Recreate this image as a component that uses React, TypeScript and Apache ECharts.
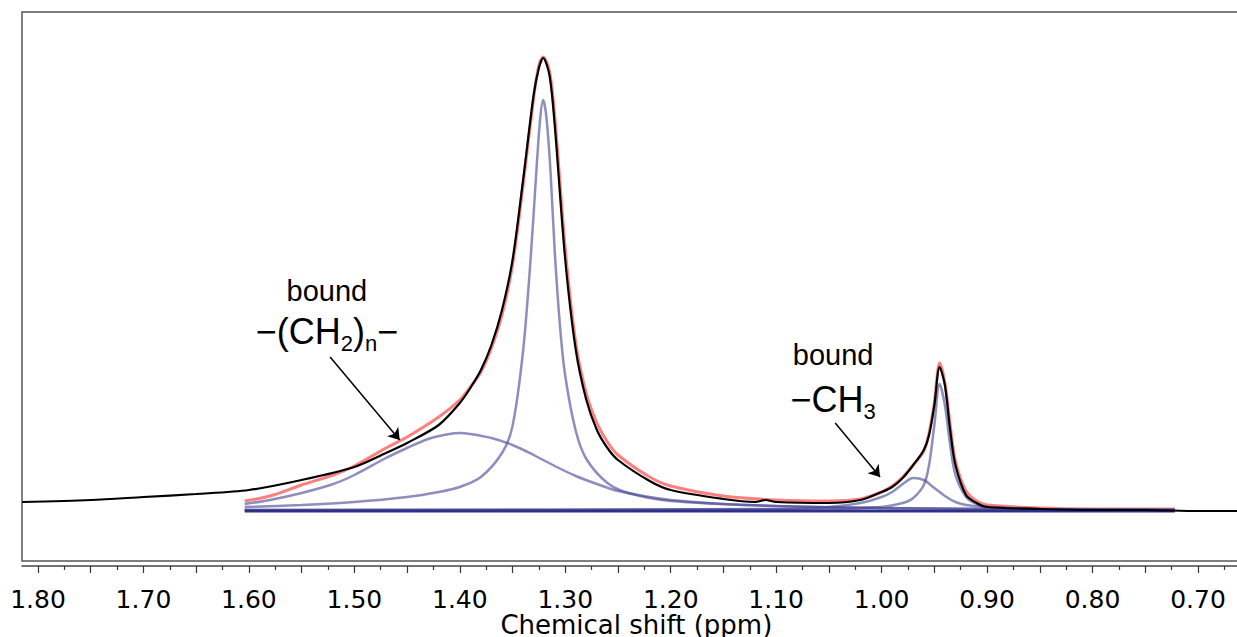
import React, { useEffect, useRef } from 'react';
import * as echarts from 'echarts';

// Chemical shift (ppm) vs intensity (arbitrary units, 0 = fitted baseline)
const experimental: [number, number][] = [
  [1.815, 9], [1.75, 11], [1.70, 14], [1.65, 17], [1.60, 21], [1.55, 31], [1.50, 44],
  [1.47, 58], [1.45, 68], [1.42, 86], [1.40, 108], [1.39, 123], [1.38, 141], [1.37, 166],
  [1.36, 201], [1.35, 251], [1.34, 331], [1.33, 416], [1.325, 443], [1.321, 453],
  [1.315, 436], [1.31, 386], [1.30, 251], [1.29, 161], [1.28, 111], [1.27, 81], [1.26, 63],
  [1.25, 51], [1.22, 30], [1.20, 21], [1.15, 12], [1.12, 9], [1.11, 11], [1.10, 9],
  [1.05, 8], [1.02, 11], [1.00, 19], [0.99, 24], [0.98, 33], [0.97, 46], [0.96, 61],
  [0.955, 76], [0.95, 106], [0.945, 144], [0.94, 126], [0.935, 81], [0.93, 46], [0.92, 16],
  [0.91, 8], [0.90, 4], [0.85, 2], [0.80, 1], [0.75, 1], [0.70, 0], [0.65, 0],
];

const totalFit: [number, number][] = [
  [1.604, 10], [1.58, 15], [1.55, 26], [1.52, 36], [1.50, 45], [1.47, 63], [1.45, 74],
  [1.42, 94], [1.40, 111], [1.39, 124], [1.38, 139], [1.37, 163], [1.36, 196], [1.35, 246],
  [1.34, 326], [1.33, 413], [1.325, 446], [1.321, 454], [1.315, 440], [1.31, 395],
  [1.30, 262], [1.29, 168], [1.28, 117], [1.27, 88], [1.26, 69], [1.25, 56], [1.22, 34],
  [1.20, 25], [1.15, 15], [1.10, 11], [1.05, 10], [1.02, 12], [1.00, 19], [0.99, 25],
  [0.98, 34], [0.97, 46], [0.96, 60], [0.955, 78], [0.95, 108], [0.945, 148], [0.94, 128],
  [0.935, 86], [0.93, 50], [0.92, 20], [0.91, 10], [0.90, 6], [0.85, 3], [0.80, 2], [0.722, 2],
];

const compBroad: [number, number][] = [
  [1.604, 7], [1.58, 11], [1.55, 18], [1.52, 27], [1.50, 36], [1.47, 53], [1.45, 63],
  [1.43, 72], [1.41, 77], [1.40, 78], [1.39, 77], [1.37, 73], [1.35, 66], [1.33, 56],
  [1.31, 45], [1.29, 35], [1.27, 27], [1.25, 20], [1.22, 14], [1.20, 11], [1.15, 7],
  [1.10, 5], [1.00, 3], [0.90, 2], [0.722, 1],
];

const compSharp: [number, number][] = [
  [1.604, 4], [1.55, 6], [1.50, 9], [1.45, 14], [1.42, 19], [1.40, 24], [1.38, 34],
  [1.36, 58], [1.35, 85], [1.34, 160], [1.333, 250], [1.328, 330], [1.324, 390],
  [1.321, 411], [1.318, 395], [1.314, 340], [1.31, 260], [1.305, 185], [1.30, 135],
  [1.29, 80], [1.28, 52], [1.26, 28], [1.24, 18], [1.20, 10], [1.10, 5], [1.00, 3],
  [0.90, 2], [0.722, 1],
];

const compMethylBroad: [number, number][] = [
  [1.604, 1], [1.10, 2], [1.05, 4], [1.02, 8], [1.00, 14], [0.99, 19], [0.98, 27],
  [0.97, 33], [0.96, 31], [0.95, 23], [0.94, 15], [0.93, 9], [0.92, 6], [0.90, 4],
  [0.85, 2], [0.722, 1],
];

const compMethylSharp: [number, number][] = [
  [1.604, 1], [1.05, 2], [1.00, 4], [0.98, 8], [0.97, 13], [0.96, 26], [0.955, 46],
  [0.95, 86], [0.945, 127], [0.94, 106], [0.935, 66], [0.93, 36], [0.92, 14], [0.91, 7],
  [0.90, 4], [0.85, 2], [0.722, 1],
];

const baseline: [number, number][] = [[1.604, 0], [0.722, 0]];

const tickLabels = ['1.80', '1.70', '1.60', '1.50', '1.40', '1.30', '1.20', '1.10', '1.00', '0.90', '0.80', '0.70'];

// annotation anchors in data coordinates [ppm, intensity]
const arrows: [[number, number], [number, number]][] = [
  [[1.523, 154], [1.457, 71]],
  [[1.044, 88], [1.0015, 34]],
];
const labelBound1: [number, number] = [1.526, 220];
const labelGroup1: [number, number] = [1.526, 180];
const labelBound2: [number, number] = [1.046, 156];
const labelGroup2: [number, number] = [1.046, 112];

const AXIS_FONT = 'DejaVu Sans, Verdana, sans-serif';
const ANN_FONT = 'Liberation Sans, Arial, Helvetica, sans-serif';

const CHART_W = 1260;

export default function App() {
  const ref = useRef<HTMLDivElement>(null);

  useEffect(() => {
    if (!ref.current) return;
    const chart = echarts.init(ref.current, undefined, { renderer: 'svg' });

    const blueComp = 'rgba(72, 72, 150, 0.62)';
    const lineSeries = (name: string, data: [number, number][], color: string, width: number, z: number) => ({
      name,
      type: 'line',
      xAxisIndex: 0,
      yAxisIndex: 0,
      data,
      showSymbol: false,
      smooth: 0.3,
      z,
      lineStyle: { color, width },
      emphasis: { disabled: true },
    });

    const option: any = {
      animation: false,
      grid: [
        { left: 22, right: 9.3, top: 12, bottom: 76, show: true, borderColor: '#555', borderWidth: 1.5, outerBoundsMode: 'none', containLabel: false },
        { left: 38, right: 9.3, top: 12, bottom: 76, show: false, outerBoundsMode: 'none', containLabel: false },
      ],
      xAxis: [
        {
          gridIndex: 0,
          type: 'value',
          inverse: true,
          min: 0.65,
          max: 1.81517,
          offset: 5,
          axisLine: { show: true, onZero: false, lineStyle: { color: '#444', width: 1.5 } },
          axisTick: { show: false },
          axisLabel: { show: false },
          splitLine: { show: false },
          name: 'Chemical shift (ppm)',
          nameLocation: 'middle',
          nameGap: 46,
          nameTextStyle: { fontSize: 26, fontFamily: AXIS_FONT, color: '#000' },
        },
        {
          gridIndex: 1,
          type: 'value',
          inverse: true,
          min: 0.65,
          max: 1.8,
          interval: 0.05,
          offset: 5,
          axisLine: { show: false, onZero: false },
          axisTick: { show: true, length: 7, lineStyle: { color: '#333', width: 1.2 } },
          minorTick: { show: true, splitNumber: 2, length: 4, lineStyle: { color: '#333', width: 1.2 } },
          splitLine: { show: false },
          minorSplitLine: { show: false },
          axisLabel: {
            show: true,
            margin: 21,
            fontSize: 25,
            fontFamily: AXIS_FONT,
            color: '#000',
            formatter: (v: number) => {
              const s = v.toFixed(2);
              return tickLabels.indexOf(s) >= 0 ? s : '';
            },
          },
        },
      ],
      yAxis: [
        { gridIndex: 0, type: 'value', min: -50, max: 499, show: false },
        { gridIndex: 1, type: 'value', min: -50, max: 499, show: false },
      ],
      series: [
        lineSeries('Total fit', totalFit, 'rgba(255, 95, 95, 0.8)', 3, 2),
        lineSeries('Broad -(CH2)n-', compBroad, blueComp, 2.5, 3),
        lineSeries('Sharp -(CH2)n-', compSharp, blueComp, 2.5, 3),
        lineSeries('Broad -CH3', compMethylBroad, blueComp, 2.5, 3),
        lineSeries('Sharp -CH3', compMethylSharp, blueComp, 2.5, 3),
        lineSeries('Baseline', baseline, '#2f2f88', 3, 4),
        {
          ...lineSeries('Experimental', experimental, '#000', 2.2, 5),
          markLine: {
            silent: true,
            symbol: ['none', 'arrow'],
            symbolSize: 11,
            label: { show: false },
            lineStyle: { color: '#000', width: 1.5, type: 'solid' },
            data: arrows.map(([a, b]) => [{ coord: a }, { coord: b }]),
          },
        },
      ],
    };

    chart.setOption(option);

    const px = (p: [number, number]) => chart.convertToPixel({ xAxisIndex: 0, yAxisIndex: 0 }, p) as number[];
    const b1 = px(labelBound1);
    const g1 = px(labelGroup1);
    const b2 = px(labelBound2);
    const g2 = px(labelGroup2);

    const rich = {
      m: { fontSize: 36, fontFamily: ANN_FONT, fill: '#000', color: '#000', lineHeight: 46 },
      s: { fontSize: 22, fontFamily: ANN_FONT, fill: '#000', color: '#000', verticalAlign: 'bottom' },
    };
    const textEl = (x: number, y: number, text: string, size: number) => ({
      type: 'text',
      x,
      y,
      z: 100,
      style: {
        text,
        fill: '#000',
        font: `${size}px ${ANN_FONT}`,
        align: 'center',
        verticalAlign: 'middle',
        textAlign: 'center',
        textVerticalAlign: 'middle',
      },
    });
    const richEl = (x: number, y: number, text: string) => ({
      type: 'text',
      x,
      y,
      z: 100,
      style: {
        text,
        rich,
        fill: '#000',
        font: `36px ${ANN_FONT}`,
        align: 'center',
        verticalAlign: 'middle',
        textAlign: 'center',
        textVerticalAlign: 'middle',
      },
    });

    chart.setOption({
      graphic: [
        textEl(b1[0], b1[1], 'bound', 29),
        richEl(g1[0], g1[1], '{m|−(CH}{s|2}{m|)}{s|n}{m|−}'),
        textEl(b2[0], b2[1], 'bound', 29),
        richEl(g2[0], g2[1], '{m|−CH}{s|3}'),
      ],
    });

    return () => chart.dispose();
  }, []);

  return (
    <div style={{ position: 'fixed', left: 0, top: 0, width: 1237, height: 637, overflow: 'hidden', background: '#fff' }}>
      <div ref={ref} style={{ width: CHART_W, height: 637 }} />
    </div>
  );
}
